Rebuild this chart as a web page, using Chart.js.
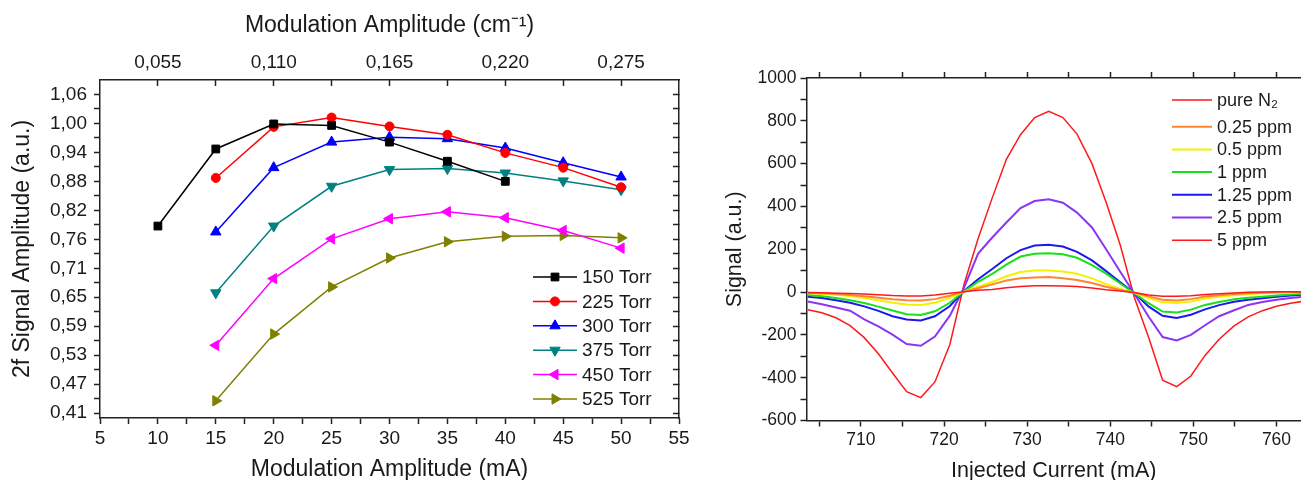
<!DOCTYPE html>
<html>
<head>
<meta charset="utf-8">
<script src="https://cdn.jsdelivr.net/npm/chart.js@4"></script>
<style>
  body { margin: 0; background: #fff; width: 1301px; height: 480px; overflow: hidden; position: relative; }
  #left { position: absolute; left: 0; top: 0; }
  #right { position: absolute; left: 700px; top: 0; }
</style>
</head>
<body>
<canvas id="left" width="700" height="480"></canvas>
<canvas id="right" width="601" height="480"></canvas>
<script>
// ---- left panel data: 2f amplitude vs modulation amplitude ----
const modAmp = [10, 15, 20, 25, 30, 35, 40, 45, 50];
const torr150 = [0.791, 0.948, 0.999, 0.996, 0.962, 0.923, 0.882, null, null];
const torr225 = [null, 0.889, 0.993, 1.012, 0.994, 0.977, 0.940, 0.910, 0.870];
const torr300 = [null, 0.779, 0.910, 0.962, 0.972, 0.969, 0.950, 0.920, 0.891];
const torr375 = [null, 0.655, 0.791, 0.872, 0.906, 0.908, 0.899, 0.883, 0.865];
const torr450 = [null, 0.548, 0.684, 0.765, 0.806, 0.820, 0.808, 0.782, 0.746];
const torr525 = [null, 0.435, 0.571, 0.667, 0.726, 0.759, 0.770, 0.772, 0.767];

const leftXTicks = [5, 10, 15, 20, 25, 30, 35, 40, 45, 50, 55];
const leftXLabels = ['5', '10', '15', '20', '25', '30', '35', '40', '45', '50', '55'];
const topTicks = [10, 20, 30, 40, 50];
const topLabels = ['0,055', '0,110', '0,165', '0,220', '0,275'];
const leftYTicks = [0.41, 0.469, 0.528, 0.587, 0.646, 0.705, 0.764, 0.823, 0.882, 0.941, 1.0, 1.059];
const leftYLabels = ['0,41', '0,47', '0,53', '0,59', '0,65', '0,71', '0,76', '0,82', '0,88', '0,94', '1,00', '1,06'];

// ---- right panel data: 2f signal vs injected current ----
const current = [703.6, 705.3, 707.0, 708.7, 710.4, 712.1, 713.8, 715.5, 717.2, 718.9, 720.7, 722.4,
  724.1, 725.8, 727.5, 729.2, 730.9, 732.6, 734.3, 736.0, 737.8, 739.5, 741.2, 742.9,
  744.6, 746.3, 748.0, 749.7, 751.4, 753.1, 754.9, 756.6, 758.3, 760.0, 761.7, 763.4];
const pureN2 = [-2, -3, -5, -7, -9, -12, -16, -18, -18, -14, -6, 2, 9, 12, 20, 26, 29, 30, 28, 26, 19, 11, 5, -2,
  -14, -20, -20, -17, -11, -8, -4, -1, 0, 1, 2, 2];
const ppm025 = [-4, -6, -9, -14, -20, -27, -34, -38, -39, -33, -17, 2, 18, 36, 54, 64, 68, 70, 65, 56, 42, 25, 10, -3,
  -20, -36, -39, -33, -21, -15, -9, -6, -3, -1, 0, 1];
const ppm05 = [-6, -9, -13, -20, -28, -38, -50, -58, -60, -50, -27, 2, 25, 47, 74, 94, 101, 101, 96, 86, 64, 37, 14, -3,
  -28, -48, -51, -44, -30, -22, -15, -10, -6, -4, -2, -1];
const ppm1 = [-14, -20, -28, -38, -51, -68, -86, -104, -107, -90, -50, 3, 48, 85, 128, 166, 179, 181, 177, 160, 126, 86, 40, -5,
  -52, -91, -95, -82, -60, -46, -34, -27, -22, -16, -11, -7];
const ppm125 = [-22, -28, -38, -50, -67, -88, -113, -128, -133, -113, -65, 5, 60, 108, 158, 196, 217, 221, 213, 188, 148, 98, 46, -5,
  -67, -111, -121, -106, -81, -61, -45, -36, -29, -22, -16, -12];
const ppm25 = [-44, -57, -72, -87, -128, -160, -199, -243, -251, -208, -110, 20, 180, 255, 325, 392, 425, 434, 417, 371, 302, 200, 95, -8,
  -114, -210, -226, -200, -155, -113, -85, -60, -46, -36, -28, -21];
const ppm5 = [-83, -97, -120, -157, -213, -288, -378, -465, -493, -420, -245, 35, 250, 440, 620, 735, 815, 844, 815, 738, 600, 420, 220, -25,
  -210, -412, -442, -392, -296, -220, -158, -116, -87, -66, -52, -42];

const rightXTicks = [710, 720, 730, 740, 750, 760];
const rightXLabels = ['710', '720', '730', '740', '750', '760'];
const rightYTicks = [-600, -400, -200, 0, 200, 400, 600, 800, 1000];
const rightYLabels = ['-600', '-400', '-200', '0', '200', '400', '600', '800', '1000'];

Chart.defaults.font.family = '"Liberation Sans", Arial, sans-serif';
Chart.defaults.color = '#1a1a1a';

const ink = '#222';
const pairs = (xs, ys) => xs.map((x, i) => ({ x: x, y: ys[i] })).filter(p => p.y !== null);
const fixed = size => s => { if (s.isHorizontal()) s.height = size; else s.width = size; };
const setTicks = values => s => { s.ticks = values.map(v => ({ value: v })); };
const withMinors = major => {
  const out = [];
  major.forEach((v, i) => { out.push(v); if (i < major.length - 1) out.push((v + major[i + 1]) / 2); });
  return out;
};
const range = (a, b, step) => { const out = []; for (let v = a; v <= b + 1e-9; v += step) out.push(v); return out; };
const labelFrom = (vals, labels) => v => { const i = vals.indexOf(v); return i < 0 ? '' : labels[i]; };
const grid = len => ({ drawOnChartArea: false, drawTicks: true, tickLength: len, tickColor: ink, tickWidth: 1.5 });
const border = { color: ink, width: 1.5 };

// legend drawn inside the plot area
const innerLegend = {
  id: 'innerLegend',
  afterDraw(chart, args, o) {
    const ctx = chart.ctx;
    ctx.save();
    ctx.font = o.font;
    ctx.textBaseline = 'middle';
    ctx.fillStyle = '#1a1a1a';
    chart.data.datasets.forEach((ds, i) => {
      const y = o.top + i * o.gap + (i > 0 ? o.extra : 0);
      ctx.strokeStyle = ds.borderColor;
      ctx.lineWidth = ds.borderWidth;
      ctx.beginPath();
      ctx.moveTo(o.x0, y);
      ctx.lineTo(o.x1, y);
      ctx.stroke();
      if (ds.pointRadius > 0) {
        ctx.fillStyle = ds.backgroundColor;
        ctx.lineWidth = 1;
        Chart.helpers.drawPoint(ctx, { pointStyle: ds.pointStyle, rotation: ds.pointRotation || 0, radius: ds.pointRadius, borderWidth: 1 }, (o.x0 + o.x1) / 2, y);
      }
      ctx.fillStyle = '#1a1a1a';
      ctx.fillText(ds.label, o.textX, y + 1);
    });
    ctx.restore();
  }
};

function torrSet(label, values, color, style, rot, r) {
  return {
    label: label, data: pairs(modAmp, values), borderColor: color, backgroundColor: color,
    borderWidth: 1.5, pointStyle: style, pointRotation: rot, pointRadius: r, pointBorderWidth: 1,
    pointBorderColor: color, pointBackgroundColor: color, tension: 0
  };
}

new Chart(document.getElementById('left'), {
  type: 'line',
  data: {
    datasets: [
      torrSet('150 Torr', torr150, '#000000', 'rect', 0, 5.5),
      torrSet('225 Torr', torr225, '#ff0000', 'circle', 0, 4.5),
      torrSet('300 Torr', torr300, '#0000ff', 'triangle', 0, 6),
      torrSet('375 Torr', torr375, '#008080', 'triangle', 180, 6),
      torrSet('450 Torr', torr450, '#ff00ff', 'triangle', -90, 6),
      torrSet('525 Torr', torr525, '#808000', 'triangle', 90, 6)
    ]
  },
  options: {
    responsive: false, animation: false, devicePixelRatio: 1,
    layout: { padding: 0 },
    plugins: {
      legend: { display: false }, tooltip: { enabled: false },
      innerLegend: { font: '19px "Liberation Sans", Arial, sans-serif', x0: 533, x1: 577, textX: 582, top: 277, gap: 24.4, extra: 0 }
    },
    scales: {
      x: {
        type: 'linear', position: 'bottom', min: 5, max: 55,
        afterBuildTicks: setTicks(withMinors(leftXTicks)), afterFit: fixed(62),
        ticks: { autoSkip: false, maxRotation: 0, padding: 3, font: { size: 19 }, callback: labelFrom(leftXTicks, leftXLabels) },
        grid: grid(6), border: border,
        title: { display: true, text: 'Modulation Amplitude (mA)', font: { size: 23, lineHeight: 0.9 }, padding: { top: 0, bottom: 0 } }
      },
      x2: {
        type: 'linear', position: 'top', min: 5, max: 55,
        afterBuildTicks: setTicks(withMinors(topTicks)), afterFit: fixed(80),
        ticks: { autoSkip: false, maxRotation: 0, padding: 12, font: { size: 19 }, callback: labelFrom(topTicks, topLabels) },
        grid: grid(-6), border: border,
        title: { display: true, text: 'Modulation Amplitude (cm⁻¹)', font: { size: 23 }, padding: { top: 12, bottom: 0 } }
      },
      y: {
        type: 'linear', position: 'left', min: 0.4, max: 1.0885,
        afterBuildTicks: setTicks(withMinors(leftYTicks)), afterFit: fixed(100),
        ticks: { autoSkip: false, padding: 7, font: { size: 19 }, callback: labelFrom(leftYTicks, leftYLabels) },
        grid: grid(6), border: border,
        title: { display: true, text: '2f Signal Amplitude (a.u.)', font: { size: 23 }, padding: { top: 9, bottom: 0 } }
      },
      y2: {
        type: 'linear', position: 'right', min: 0.4, max: 1.0885,
        afterBuildTicks: setTicks(withMinors(leftYTicks)), afterFit: fixed(21),
        ticks: { display: false },
        grid: grid(-6), border: border
      }
    }
  },
  plugins: [innerLegend]
});

function ppmSet(label, values, color, w) {
  return {
    label: label, data: pairs(current, values), borderColor: color, backgroundColor: color,
    borderWidth: w, pointRadius: 0, tension: 0
  };
}

new Chart(document.getElementById('right'), {
  type: 'line',
  data: {
    datasets: [
      ppmSet('pure N₂', pureN2, '#ff1a1a', 1.5),
      ppmSet('0.25 ppm', ppm025, '#ff8533', 2),
      ppmSet('0.5 ppm', ppm05, '#f2f200', 2),
      ppmSet('1 ppm', ppm1, '#19e019', 2),
      ppmSet('1.25 ppm', ppm125, '#1a1aee', 2),
      ppmSet('2.5 ppm', ppm25, '#8c35f5', 2),
      ppmSet('5 ppm', ppm5, '#ff1a1a', 1.5)
    ]
  },
  options: {
    responsive: false, animation: false, devicePixelRatio: 1,
    layout: { padding: 0 },
    plugins: {
      legend: { display: false }, tooltip: { enabled: false },
      innerLegend: { font: '18px "Liberation Sans", Arial, sans-serif', x0: 472, x1: 512, textX: 517, top: 100, gap: 22.7, extra: 4 }
    },
    scales: {
      x: {
        type: 'linear', position: 'bottom', min: 703.45, max: 762.95,
        afterBuildTicks: setTicks(range(705, 760, 5)), afterFit: fixed(59.5),
        ticks: { autoSkip: false, maxRotation: 0, padding: 3, font: { size: 17.5 }, callback: labelFrom(rightXTicks, rightXLabels) },
        grid: grid(6), border: border,
        title: { display: true, text: 'Injected Current (mA)', font: { size: 21.5, lineHeight: 0.85 }, padding: { top: 0, bottom: 0 } }
      },
      x2: {
        type: 'linear', position: 'top', min: 703.45, max: 762.95,
        afterBuildTicks: setTicks(range(705, 760, 5)), afterFit: fixed(78),
        ticks: { display: false },
        grid: grid(6), border: border
      },
      y: {
        type: 'linear', position: 'left', min: -600, max: 1000,
        afterBuildTicks: setTicks(range(-600, 1000, 100)), afterFit: fixed(106.5),
        ticks: { autoSkip: false, padding: 4, font: { size: 17.5 }, callback: labelFrom(rightYTicks, rightYLabels) },
        grid: grid(6), border: border,
        title: { display: true, text: 'Signal (a.u.)', font: { size: 21.5 }, padding: { top: 22, bottom: 0 } }
      }
    }
  },
  plugins: [innerLegend]
});
</script>
</body>
</html>
